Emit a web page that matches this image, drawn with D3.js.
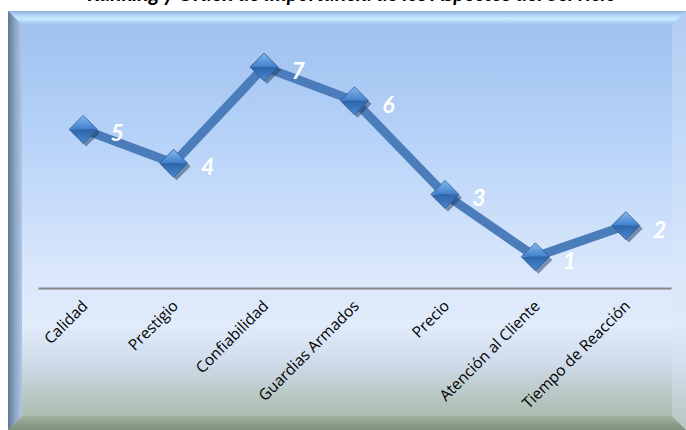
<!DOCTYPE html>
<html>
<head>
<meta charset="utf-8">
<script src="https://cdn.jsdelivr.net/npm/d3@7"></script>
<style>
  body { margin: 0; background: #fff; }
  svg { display: block; }
</style>
</head>
<body>
<div id="chart-area"></div>
<script>
const categories = ["Calidad", "Prestigio", "Confiabilidad", "Guardias Armados", "Precio", "Atención al Cliente", "Tiempo de Reacción"];
const scores = [61, 48, 85, 72, 36, 12, 24];
const ranks = [5, 4, 7, 6, 3, 1, 2];
const title = "Ranking y Orden de Importancia de los Aspectos del Servicio";

const canvasWidth = 686;
const canvasHeight = 430;

const svg = d3.select("#chart-area").append("svg").attr("width", canvasWidth).attr("height", canvasHeight);
const defs = svg.append("defs");

// background gradient
const bg = defs.append("linearGradient").attr("id", "bg").attr("x1", 0).attr("y1", 0).attr("x2", 0).attr("y2", 1);
[[0, "#9cbfee"], [0.3, "#b6d2f8"], [0.62, "#dae7fb"], [0.75, "#e0ebfb"], [0.84, "#cfdbea"], [0.93, "#b4c5bf"], [1, "#a2b6a2"]]
  .forEach(s => bg.append("stop").attr("offset", s[0]).attr("stop-color", s[1]));

const topBevel = defs.append("linearGradient").attr("id", "topBevel").attr("x1", 0).attr("y1", 0).attr("x2", 0).attr("y2", 1);
[[0, "#8fb0dc"], [0.35, "#b4dcf8"], [0.55, "#c8ecff"], [1, "#9ec0ee"]]
  .forEach(s => topBevel.append("stop").attr("offset", s[0]).attr("stop-color", s[1]));

const leftBevel = defs.append("linearGradient").attr("id", "leftBevel").attr("x1", 0).attr("y1", 0).attr("x2", 1).attr("y2", 0);
[[0, "#5f7594"], [0.5, "#8da6c6"], [1, "#b0c6e4"]]
  .forEach(s => leftBevel.append("stop").attr("offset", s[0]).attr("stop-color", s[1]));

const bottomBevel = defs.append("linearGradient").attr("id", "bottomBevel").attr("x1", 0).attr("y1", 0).attr("x2", 0).attr("y2", 1);
[[0, "#a0b29e"], [1, "#7d917b"]]
  .forEach(s => bottomBevel.append("stop").attr("offset", s[0]).attr("stop-color", s[1]));

const diaTop = defs.append("linearGradient").attr("id", "diaTop").attr("x1", 0).attr("y1", 0).attr("x2", 0).attr("y2", 1);
[[0, "#86b8ee"], [1, "#3f7fcc"]].forEach(s => diaTop.append("stop").attr("offset", s[0]).attr("stop-color", s[1]));
const diaBot = defs.append("linearGradient").attr("id", "diaBot").attr("x1", 0).attr("y1", 0).attr("x2", 0).attr("y2", 1);
[[0, "#2c64a8"], [1, "#4a88d2"]].forEach(s => diaBot.append("stop").attr("offset", s[0]).attr("stop-color", s[1]));

// frame
const fx0 = 8, fy0 = 11, fx1 = 686, fy1 = 430, b = 14;
svg.append("rect").attr("x", fx0).attr("y", fy0).attr("width", fx1 - fx0).attr("height", fy1 - fy0).attr("fill", "url(#bg)");
svg.append("polygon").attr("points", [[fx0, fy0], [fx1, fy0], [fx1 - b, fy0 + b], [fx0 + b, fy0 + b]].join(" ")).attr("fill", "url(#topBevel)");
svg.append("polygon").attr("points", [[fx0, fy0], [fx0 + b, fy0 + b], [fx0 + b, fy1 - b], [fx0, fy1]].join(" ")).attr("fill", "url(#leftBevel)");
svg.append("polygon").attr("points", [[fx0, fy1], [fx0 + b, fy1 - b], [fx1 - b, fy1 - b], [fx1, fy1]].join(" ")).attr("fill", "url(#bottomBevel)");
svg.append("polygon").attr("points", [[fx1, fy0], [fx1 - b, fy0 + b], [fx1 - b, fy1 - b], [fx1, fy1]].join(" ")).attr("fill", "#dbe7f8").attr("opacity", 0.35);

// title (the reference crops it, only the lower part shows)
svg.append("text")
  .attr("x", 352).attr("y", 0.5)
  .attr("text-anchor", "middle")
  .attr("font-family", "Lato, 'Open Sans', sans-serif")
  .attr("font-size", "21px").attr("font-weight", "bold").attr("font-style", "italic")
  .attr("fill", "#000")
  .text(title);

const xScale = d3.scalePoint().domain(categories).range([38, 671]).padding(0.5);
const yScale = d3.scaleLinear().domain([0, 100]).range([288, 28]);

// axis
const xAxis = d3.axisBottom(xScale).tickSize(0).tickPadding(0);
const axisG = svg.append("g").attr("transform", `translate(0, ${yScale(0)})`).call(xAxis);
axisG.select(".domain").attr("stroke", "#868686").attr("stroke-width", 2);
axisG.selectAll(".tick text")
  .attr("font-family", "'Open Sans', sans-serif")
  .attr("font-size", "15.5px")
  .attr("fill", "#000")
  .attr("text-anchor", "end")
  .attr("dy", 0)
  .attr("transform", "translate(5, 19) rotate(-45)");

// line
const line = d3.line().x((d, i) => xScale(categories[i])).y(d => yScale(d));
svg.append("path").datum(scores)
  .attr("d", line)
  .attr("fill", "none")
  .attr("stroke", "#4a7dba")
  .attr("stroke-width", 9)
  .attr("stroke-linejoin", "miter");

// markers
const r = 14;
const markers = svg.selectAll(".marker").data(scores).enter().append("g")
  .attr("class", "marker")
  .attr("transform", (d, i) => `translate(${xScale(categories[i])}, ${yScale(d)})`);
markers.append("polygon").attr("points", `0,${-r + 3} ${r + 3},3 3,${r + 3} ${-r + 3},3`).attr("fill", "#1d3b60").attr("opacity", 0.5);
markers.append("polygon").attr("points", `0,${-r} ${r},0 ${-r},0`).attr("fill", "url(#diaTop)");
markers.append("polygon").attr("points", `${-r},0 ${r},0 0,${r}`).attr("fill", "url(#diaBot)");
markers.append("polygon").attr("points", `0,${-r} ${r},0 0,${r} ${-r},0`).attr("fill", "none").attr("stroke", "#2a5a94").attr("stroke-width", 0.8);

// value labels
svg.selectAll(".rank").data(scores).enter().append("text")
  .attr("class", "rank")
  .attr("x", (d, i) => xScale(categories[i]) + 34)
  .attr("y", d => yScale(d) + 12)
  .attr("text-anchor", "middle")
  .attr("font-family", "Lato, 'Open Sans', sans-serif")
  .attr("font-size", "23px").attr("font-weight", "bold").attr("font-style", "italic")
  .attr("fill", "#fff")
  .text((d, i) => ranks[i]);
</script>
</body>
</html>
